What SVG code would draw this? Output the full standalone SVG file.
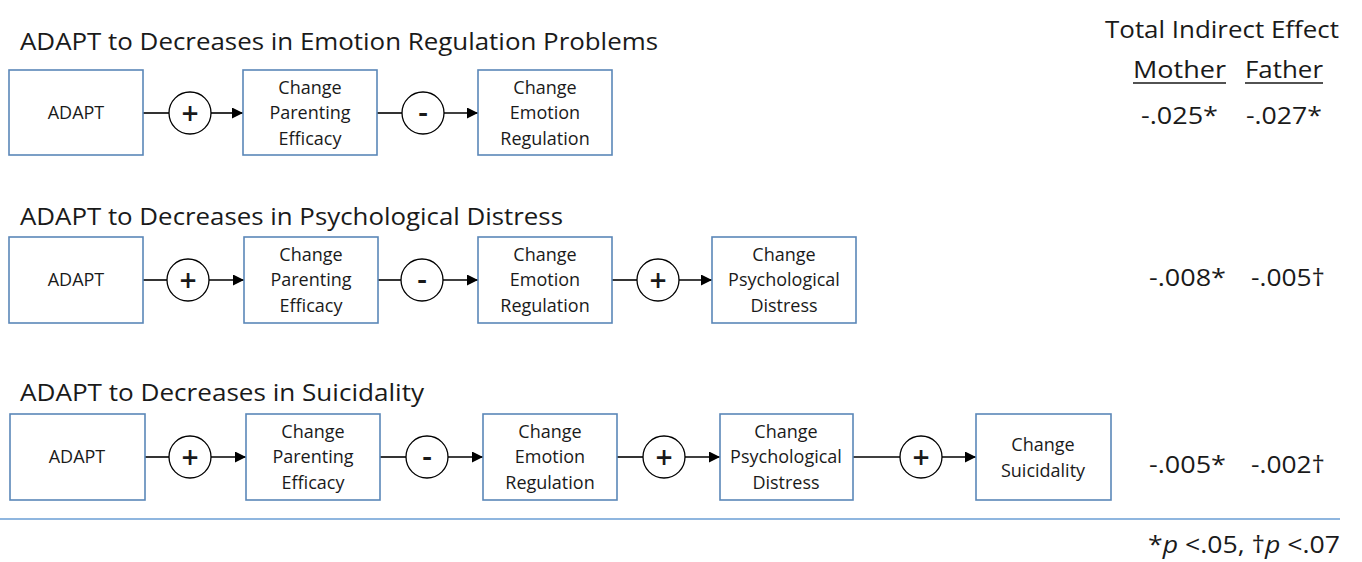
<svg xmlns="http://www.w3.org/2000/svg" width="1362" height="562" viewBox="0 0 1362 562">
<defs>
<marker id="ah" viewBox="0 0 10 10" refX="10" refY="5" markerWidth="11" markerHeight="11" markerUnits="userSpaceOnUse" orient="auto"><path d="M0,0 L10,5 L0,10 Z" fill="#000"/></marker>
</defs>
<style>
text{font-family:"Open Sans","Noto Sans",sans-serif;fill:#1a1a1a}
.title{font-size:24px}
.box{fill:#fff;stroke:#5b87b8;stroke-width:1.6}
.bt{font-size:18px;text-anchor:middle}
.sgn{fill:#fff;stroke:#000;stroke-width:1.3}
.st{font-size:30px;text-anchor:middle;font-weight:600}
.ln{stroke:#000;stroke-width:1.6;fill:none}
.hd{font-size:24px}
.val{font-size:24px}
</style>
<rect width="1362" height="562" fill="#fff"/>

<text class="title" x="20" y="50" textLength="638" lengthAdjust="spacingAndGlyphs">ADAPT to Decreases in Emotion Regulation Problems</text>
<text class="title" x="20" y="225" textLength="543" lengthAdjust="spacingAndGlyphs">ADAPT to Decreases in Psychological Distress</text>
<text class="title" x="20" y="401" textLength="404" lengthAdjust="spacingAndGlyphs">ADAPT to Decreases in Suicidality</text>

<g id="connectors">
<path class="ln" d="M143,113 H169"/><path class="ln" d="M211,113 H243" marker-end="url(#ah)"/>
<path class="ln" d="M377,113 H402"/><path class="ln" d="M444,113 H478" marker-end="url(#ah)"/>
<path class="ln" d="M143,280 H167"/><path class="ln" d="M209,280 H244" marker-end="url(#ah)"/>
<path class="ln" d="M378,280 H401"/><path class="ln" d="M443,280 H478" marker-end="url(#ah)"/>
<path class="ln" d="M612,280 H637"/><path class="ln" d="M679,280 H712" marker-end="url(#ah)"/>
<path class="ln" d="M145,457 H169"/><path class="ln" d="M211,457 H246" marker-end="url(#ah)"/>
<path class="ln" d="M380,457 H406"/><path class="ln" d="M448,457 H483" marker-end="url(#ah)"/>
<path class="ln" d="M617,457 H643"/><path class="ln" d="M685,457 H720" marker-end="url(#ah)"/>
<path class="ln" d="M853,457 H900"/><path class="ln" d="M942,457 H976" marker-end="url(#ah)"/>
<circle class="sgn" cx="190" cy="113" r="21"/><text class="st" x="190" y="124">+</text>
<circle class="sgn" cx="423" cy="113" r="21"/><text class="st" x="423" y="123">-</text>
<circle class="sgn" cx="188" cy="280" r="21"/><text class="st" x="188" y="291">+</text>
<circle class="sgn" cx="422" cy="280" r="21"/><text class="st" x="422" y="290">-</text>
<circle class="sgn" cx="658" cy="280" r="21"/><text class="st" x="658" y="291">+</text>
<circle class="sgn" cx="190" cy="457" r="21"/><text class="st" x="190" y="468">+</text>
<circle class="sgn" cx="427" cy="457" r="21"/><text class="st" x="427" y="467">-</text>
<circle class="sgn" cx="664" cy="457" r="21"/><text class="st" x="664" y="468">+</text>
<circle class="sgn" cx="921" cy="457" r="21"/><text class="st" x="921" y="468">+</text>
</g>

<g id="r1-adapt"><rect class="box" x="9" y="70" width="134" height="85"/><text class="bt" x="76" y="119">ADAPT</text></g>
<g id="r1-efficacy"><rect class="box" x="243" y="70" width="134" height="85"/><text class="bt" x="310" y="94">Change</text><text class="bt" x="310" y="119">Parenting</text><text class="bt" x="310" y="145">Efficacy</text></g>
<g id="r1-emotion"><rect class="box" x="478" y="70" width="134" height="85"/><text class="bt" x="545" y="94">Change</text><text class="bt" x="545" y="119">Emotion</text><text class="bt" x="545" y="145">Regulation</text></g>

<g id="r2-adapt"><rect class="box" x="9" y="237" width="134" height="86"/><text class="bt" x="76" y="286">ADAPT</text></g>
<g id="r2-efficacy"><rect class="box" x="244" y="237" width="134" height="86"/><text class="bt" x="311" y="261">Change</text><text class="bt" x="311" y="286">Parenting</text><text class="bt" x="311" y="312">Efficacy</text></g>
<g id="r2-emotion"><rect class="box" x="478" y="237" width="134" height="86"/><text class="bt" x="545" y="261">Change</text><text class="bt" x="545" y="286">Emotion</text><text class="bt" x="545" y="312">Regulation</text></g>
<g id="r2-distress"><rect class="box" x="712" y="237" width="144" height="86"/><text class="bt" x="784" y="261">Change</text><text class="bt" x="784" y="286">Psychological</text><text class="bt" x="784" y="312">Distress</text></g>

<g id="r3-adapt"><rect class="box" x="10" y="414" width="135" height="86"/><text class="bt" x="77" y="463">ADAPT</text></g>
<g id="r3-efficacy"><rect class="box" x="246" y="414" width="134" height="86"/><text class="bt" x="313" y="438">Change</text><text class="bt" x="313" y="463">Parenting</text><text class="bt" x="313" y="489">Efficacy</text></g>
<g id="r3-emotion"><rect class="box" x="483" y="414" width="134" height="86"/><text class="bt" x="550" y="438">Change</text><text class="bt" x="550" y="463">Emotion</text><text class="bt" x="550" y="489">Regulation</text></g>
<g id="r3-distress"><rect class="box" x="720" y="414" width="133" height="86"/><text class="bt" x="786" y="438">Change</text><text class="bt" x="786" y="463">Psychological</text><text class="bt" x="786" y="489">Distress</text></g>
<g id="r3-suicidality"><rect class="box" x="976" y="414" width="135" height="86"/><text class="bt" x="1043" y="451">Change</text><text class="bt" x="1043" y="477">Suicidality</text></g>

<text class="hd" x="1105" y="38" textLength="234" lengthAdjust="spacingAndGlyphs">Total Indirect Effect</text>
<text class="hd" x="1133" y="78" textLength="93" lengthAdjust="spacingAndGlyphs">Mother</text>
<text class="hd" x="1245" y="78" textLength="78" lengthAdjust="spacingAndGlyphs">Father</text>
<path d="M1133,83 H1226 M1245,83 H1323" stroke="#1a1a1a" stroke-width="1.5"/>
<text class="val" x="1141" y="124" textLength="77" lengthAdjust="spacingAndGlyphs">-.025*</text>
<text class="val" x="1246" y="124" textLength="76" lengthAdjust="spacingAndGlyphs">-.027*</text>
<text class="val" x="1149" y="286" textLength="77" lengthAdjust="spacingAndGlyphs">-.008*</text>
<text class="val" x="1251" y="286" textLength="74" lengthAdjust="spacingAndGlyphs">-.005†</text>
<text class="val" x="1149" y="473" textLength="77" lengthAdjust="spacingAndGlyphs">-.005*</text>
<text class="val" x="1251" y="473" textLength="74" lengthAdjust="spacingAndGlyphs">-.002†</text>

<path d="M0,519 H1340" stroke="#8fb6df" stroke-width="2"/>
<text x="1148" y="553" style="font-size:24px" textLength="192" lengthAdjust="spacingAndGlyphs">*<tspan font-style="italic">p</tspan> &lt;.05, †<tspan font-style="italic">p</tspan> &lt;.07</text>
</svg>
